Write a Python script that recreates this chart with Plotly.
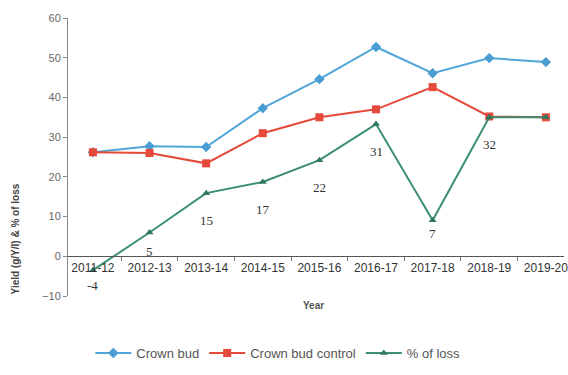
import plotly.graph_objects as go

years = ["2011-12", "2012-13", "2013-14", "2014-15", "2015-16",
         "2016-17", "2017-18", "2018-19", "2019-20"]
crown_bud = [26.2, 27.7, 27.5, 37.3, 44.6, 52.7, 46.1, 49.9, 48.9]
crown_bud_control = [26.2, 26.0, 23.4, 31.0, 35.0, 37.0, 42.6, 35.2, 35.0]
pct_loss = [-3.5, 6.0, 15.9, 18.7, 24.2, 33.3, 9.1, 35.0, 35.0]
loss_labels = ["-4", "5", "15", "17", "22", "31", "7", "32", ""]
y_ticks = [-10, 0, 10, 20, 30, 40, 50, 60]

fig = go.Figure()
fig.add_trace(go.Scatter(
    x=years, y=crown_bud, name="Crown bud", mode="lines+markers",
    line=dict(color="#52a6da", width=2),
    marker=dict(symbol="diamond", size=8, color="#4a9dd2")))
fig.add_trace(go.Scatter(
    x=years, y=crown_bud_control, name="Crown bud control", mode="lines+markers",
    line=dict(color="#e5493a", width=2),
    marker=dict(symbol="square", size=8, color="#e5493a")))
fig.add_trace(go.Scatter(
    x=years, y=pct_loss, name="% of loss", mode="lines+markers",
    line=dict(color="#3b8f70", width=2),
    marker=dict(symbol="triangle-up", size=7, color="#2f7a5e")))

shift = {0: -15, 1: -19, 6: -13}
for i, (yr, v, lab) in enumerate(zip(years, pct_loss, loss_labels)):
    if lab:
        fig.add_annotation(x=yr, y=v, text=lab, showarrow=False,
                           yshift=shift.get(i, -27),
                           font=dict(family="Liberation Serif", size=13, color="#333"))

fig.add_annotation(text="<b>Yield (g/Y/I) & % of loss</b>", xref="paper", yref="paper",
                   x=-0.105, y=0.0, xanchor="center", yanchor="bottom",
                   textangle=-90, showarrow=False,
                   font=dict(family="Liberation Sans", size=10, color="#444"))
fig.add_annotation(text="<b>Year</b>", xref="paper", yref="paper",
                   x=0.495, y=-0.033, yanchor="middle", showarrow=False,
                   font=dict(family="Liberation Sans", size=10, color="#555"))

fig.update_layout(
    width=568, height=375,
    margin=dict(l=68, r=0, t=18, b=79),
    paper_bgcolor="white", plot_bgcolor="white",
    font=dict(family="Liberation Sans", color="#555"),
    showlegend=True,
    legend=dict(orientation="h", x=0.045, y=-0.205, xanchor="left", yanchor="middle",
                font=dict(size=13, color="#555"), itemwidth=36,
                tracegroupgap=0),
    xaxis=dict(type="category", range=[-0.44, 8.32], anchor="free",
               position=10 / 70, showline=True, linecolor="#555", linewidth=1,
               ticks="outside", ticklen=4, tickcolor="#777", tickson="boundaries",
               showgrid=False, tickfont=dict(size=12, color="#333", family="Liberation Sans")),
    yaxis=dict(range=[-10, 60], tickvals=y_ticks, showline=True, linecolor="#888",
               ticks="outside", ticklen=4, tickcolor="#888", showgrid=False,
               zeroline=False, tickfont=dict(size=11, color="#666")),
)

fig.write_html("out.html")
